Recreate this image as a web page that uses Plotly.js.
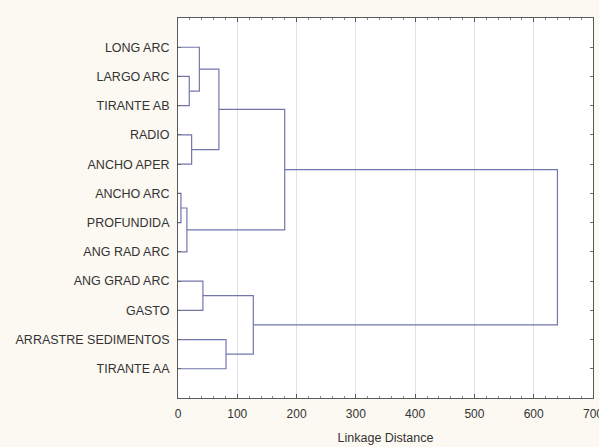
<!DOCTYPE html>
<html>
<head>
<meta charset="utf-8">
<script src="https://cdn.plot.ly/plotly-3.0.1.min.js"></script>
<style>html,body{margin:0;padding:0;background:#fcf9f2;}</style>
</head>
<body>
<div id="chart" style="width:599px;height:447px;"></div>
<script>
// Leaves in display order (top to bottom)
const leafLabels = ["LONG ARC","LARGO ARC","TIRANTE AB","RADIO","ANCHO APER","ANCHO ARC",
  "PROFUNDIDA","ANG RAD ARC","ANG GRAD ARC","GASTO","ARRASTRE SEDIMENTOS","TIRANTE AA"];
// Merge table: node ids 0..11 are leaves, 12+ are clusters in order of creation
const mergeLeft   = [1, 0, 3, 13, 5, 16, 15, 8, 10, 19, 18];
const mergeRight  = [2, 12, 4, 14, 6, 7, 17, 9, 11, 20, 21];
const mergeHeight = [19, 36, 23, 69, 5, 15, 180, 42, 81, 127, 640];
const xTicks = [0, 100, 200, 300, 400, 500, 600, 700];

const n = leafLabels.length;
const nodeY = [], nodeH = [];
for (let i = 0; i < n; i++) { nodeY.push(i + 1); nodeH.push(0); }
const xs = [], ys = [];
for (let k = 0; k < mergeHeight.length; k++) {
  const a = mergeLeft[k], b = mergeRight[k], h = mergeHeight[k];
  xs.push(nodeH[a], h, h, nodeH[b], null);
  ys.push(nodeY[a], nodeY[a], nodeY[b], nodeY[b], null);
  nodeY.push((nodeY[a] + nodeY[b]) / 2);
  nodeH.push(h);
}

const font = {family: "Liberation Sans, Arial, sans-serif", size: 12, color: "#333333"};
const data = [{
  type: "scatter", mode: "lines", x: xs, y: ys,
  line: {color: "#7276ad", width: 1.2}, hoverinfo: "skip", showlegend: false
}];
const layout = {
  width: 599, height: 447,
  margin: {l: 178, r: 6, t: 18, b: 49},
  paper_bgcolor: "#fcf9f2", plot_bgcolor: "#ffffff",
  font: font, showlegend: false,
  xaxis: {
    range: [0, 700], tickvals: xTicks, ticktext: xTicks.map(String),
    showgrid: true, gridcolor: "#e2e2ea", gridwidth: 1, zeroline: false,
    showline: true, linecolor: "#5a5a5a", linewidth: 1, mirror: "ticks",
    ticks: "inside", ticklen: 4, tickcolor: "#5a5a5a",
    minor: {ticks: "inside", dtick: 20, ticklen: 2, tickcolor: "#8a8a8a", showgrid: false},
    ticklabeloverflow: "allow", ticklabelstandoff: 5,
    tickfont: {family: font.family, size: 12, color: "#333333"},
    title: {text: "Linkage Distance", font: {family: font.family, size: 12.5, color: "#333333"}, standoff: 12}
  },
  yaxis: {
    range: [13, 0], tickvals: leafLabels.map((_, i) => i + 1), ticktext: leafLabels,
    showgrid: false, zeroline: false,
    showline: true, linecolor: "#5a5a5a", linewidth: 1, mirror: "ticks",
    ticks: "inside", ticklen: 3, tickcolor: "#6a6a6a",
    ticklabelstandoff: 5,
    tickfont: {family: font.family, size: 12.5, color: "#333333"}
  }
};
Plotly.newPlot("chart", data, layout, {displayModeBar: false, staticPlot: true});
</script>
</body>
</html>
